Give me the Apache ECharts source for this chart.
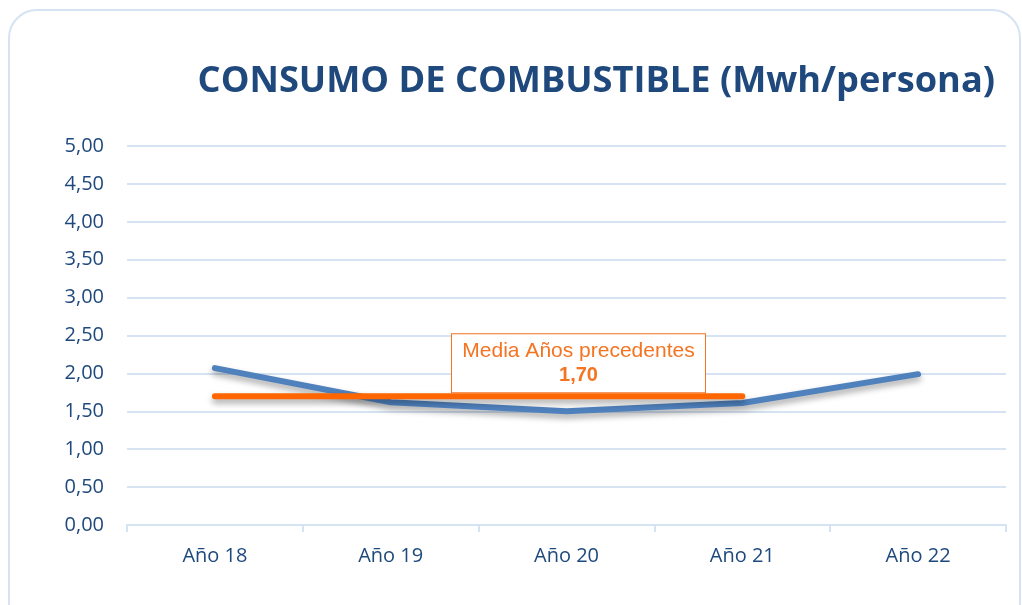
<!DOCTYPE html>
<html>
<head>
<meta charset="utf-8">
<script src="https://cdn.jsdelivr.net/npm/echarts@6/dist/echarts.min.js"></script>
<style>
html, body { margin: 0; padding: 0; background: #fff; }
#main { width: 1022px; height: 605px; }
</style>
</head>
<body>
<div id="main"></div>
<script>
// datos
var years = ['Año 18', 'Año 19', 'Año 20', 'Año 21', 'Año 22'];
var consumo = [2.07, 1.62, 1.50, 1.61, 1.99];
var media = [1.70, 1.70, 1.70, 1.70, null];
var mediaLabel = 'Media Años precedentes';

var azul = '#1F497D';
var naranja = '#F47422';

var myChart = echarts.init(document.getElementById('main'));

var option = {
	backgroundColor: '#fff',
	animation: false,
	title: {
		text: 'CONSUMO DE COMBUSTIBLE (Mwh/persona)',
		right: 22,
		top: 59,
		textStyle: {
			fontFamily: 'Open Sans',
			fontSize: 36.2,
			fontWeight: 'bold',
			color: azul
		}
	},
	graphic: [{
		type: 'rect',
		shape: { x: 9, y: 10, width: 1011, height: 620, r: 28 },
		style: { fill: 'none', stroke: '#D6E3F3', lineWidth: 2 },
		silent: true
	}],
	grid: {
		left: 127,
		right: 16,
		top: 146,
		bottom: 80
	},
	xAxis: {
		type: 'category',
		data: years,
		boundaryGap: true,
		axisLine: { lineStyle: { color: '#D6E3F3', width: 2 } },
		axisTick: { show: true, length: 7, lineStyle: { color: '#D6E3F3', width: 2 } },
		axisLabel: {
			margin: 21,
			fontFamily: 'Open Sans',
			fontSize: 20,
			color: azul
		}
	},
	yAxis: {
		type: 'value',
		min: 0,
		max: 5,
		interval: 0.5,
		axisLine: { show: false },
		axisTick: { show: false },
		splitLine: { lineStyle: { color: '#D6E3F3', width: 2 } },
		axisLabel: {
			margin: 23,
			fontFamily: 'Open Sans',
			fontSize: 20,
			color: azul,
			formatter: function (v) { return v.toFixed(2).replace('.', ','); }
		}
	},
	series: [{
		name: 'Consumo',
		type: 'line',
		data: consumo,
		symbol: 'none',
		lineStyle: {
			color: '#4F81BD',
			width: 6,
			cap: 'round',
			join: 'round',
			shadowColor: 'rgba(0,0,0,0.35)',
			shadowBlur: 6,
			shadowOffsetY: 4
		},
		z: 2
	}, {
		name: 'Media',
		type: 'line',
		showSymbol: true,
		symbol: 'circle',
		symbolSize: 0,
		data: media.map(function (v, i) {
			if (i !== 2) return v;
			return {
				value: v,
				label: {
					show: true,
					position: 'top',
					distance: 4,
					offset: [12, 0],
					formatter: '{a|' + mediaLabel + '}\n{b|' + v.toFixed(2).replace('.', ',') + '}',
					backgroundColor: '#fff',
					borderColor: naranja,
					borderWidth: 1,
					padding: [5, 8, 5, 8],
					width: 237,
					align: 'center',
					rich: {
						a: { fontFamily: 'Liberation Sans', fontSize: 21, color: naranja, lineHeight: 24, align: 'center' },
						b: { fontFamily: 'Liberation Sans', fontSize: 20, fontWeight: 'bold', color: naranja, lineHeight: 24, align: 'center' }
					}
				}
			};
		}),
		itemStyle: { color: '#FF6600' },
		lineStyle: {
			color: '#FF6600',
			width: 6,
			cap: 'round',
			shadowColor: 'rgba(0,0,0,0.35)',
			shadowBlur: 6,
			shadowOffsetY: 4
		},
		z: 3
	}]
};

myChart.setOption(option);
</script>
</body>
</html>
